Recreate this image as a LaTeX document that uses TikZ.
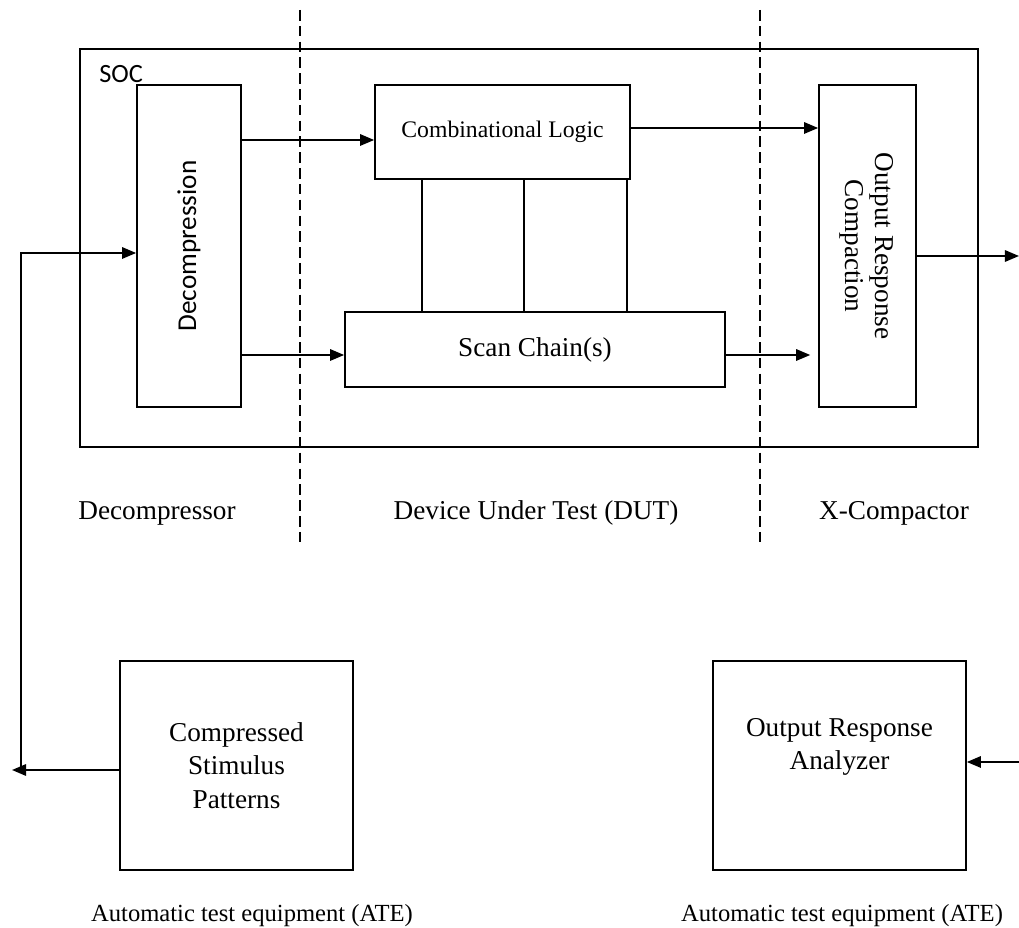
\documentclass[tikz,border=0pt]{standalone}
\usepackage{fontspec}
\setmainfont{Liberation Serif}
\newfontfamily\calfont{Carlito}
\usepackage{tikz}
\usetikzlibrary{arrows.meta}

\begin{document}
\begin{tikzpicture}[x=0.02cm, y=-0.02cm]
    \tikzstyle{box}=[draw,line width=1pt,inner sep=0pt,align=center,font=\fontsize{15.5}{19}\selectfont]
    \tikzstyle{arr}=[draw,line width=1pt,-{Triangle[length=8pt,width=6.5pt]}]
    \tikzstyle{wire}=[draw,line width=1pt]
    \tikzstyle{divider}=[draw,line width=1pt,dash pattern=on 6pt off 3pt]
    \tikzstyle{lbl}=[inner sep=0pt,font=\fontsize{15.5}{19}\selectfont]
    \tikzstyle{ate}=[inner sep=0pt,font=\fontsize{14}{17}\selectfont]
    \useasboundingbox (0,0) rectangle (1019,928);
    % chip outline
    \node[box,minimum width=17.96cm,minimum height=7.96cm] (soc) at (529,248) {};
    \node[inner sep=0pt,anchor=west,font=\calfont\fontsize{15}{18}\selectfont] (soclbl) at (99,74) {SOC};
    % blocks
    \node[box,minimum width=2.08cm,minimum height=6.44cm,font=\calfont\fontsize{15.5}{18}\selectfont] (dec) at (189,246) {\rotatebox{90}{Decompression}};
    \node[box,minimum width=5.1cm,minimum height=1.88cm,font=\fontsize{13.5}{16}\selectfont] (comb) at (502.5,132) {Combinational Logic};
    \node[box,minimum width=7.6cm,minimum height=1.5cm] (scan) at (535,349.5) {Scan Chain(s)};
    \node[box,minimum width=1.94cm,minimum height=6.44cm] (orc) at (867.5,246) {\rotatebox{-90}{\begin{tabular}{@{}c@{}}Output Response\\[-2pt] Compaction\end{tabular}}};
    \node[box,minimum width=4.66cm,minimum height=4.18cm] (csp) at (236.5,765.5) {Compressed\\ Stimulus\\ Patterns};
    \node[box,minimum width=5.06cm,minimum height=4.18cm] (ora) at (839.5,765.5) {Output Response\\ Analyzer\\ \strut};
    % region labels
    \node[lbl] (ldec) at (157,513) {Decompressor};
    \node[lbl] (ldut) at (536,513) {Device Under Test (DUT)};
    \node[lbl] (lxc) at (894,513) {X-Compactor};
    \node[ate] (ate1) at (252,916) {Automatic test equipment (ATE)};
    \node[ate] (ate2) at (842,916) {Automatic test equipment (ATE)};
    % dividers
    \draw[divider] (300,10) -- (300,547);
    \draw[divider] (760,10) -- (760,547);
    % connections
    \coordinate (outL) at (12,770);
    \coordinate (turnL) at (21,770);
    \coordinate (outR) at (1019,256);
    \coordinate (inR) at (1019,762);
    \draw[arr] (csp.west |- outL) -- (outL);
    \draw[arr] (turnL) |- (dec.west |- 0,253);
    \draw[arr] (dec.east |- 0,140) -- (comb.west |- 0,140);
    \draw[arr] (dec.east |- 0,355) -- (scan.west |- 0,355);
    \draw[arr] (comb.east |- 0,128) -- (orc.west |- 0,128);
    \draw[arr,shorten >=4.5pt] (scan.east |- 0,355) -- (orc.west |- 0,355);
    \draw[arr] (orc.east |- outR) -- (outR);
    \draw[arr] (inR) -- (ora.east |- inR);
    \foreach \i in {422,524,627}
        \draw[wire] (comb.south -| \i,0) -- (scan.north -| \i,0);
\end{tikzpicture}
\end{document}
